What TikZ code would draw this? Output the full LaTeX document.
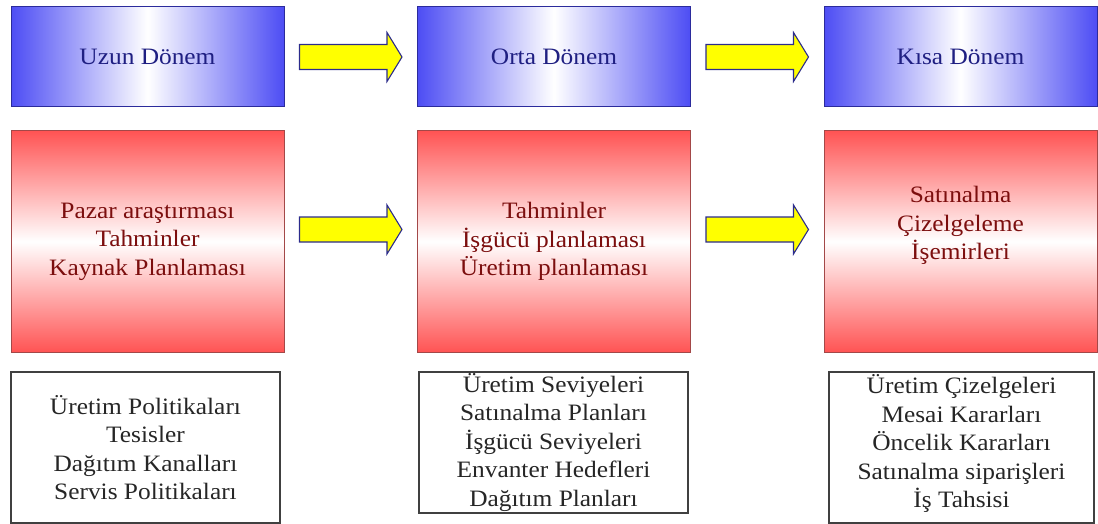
\documentclass[tikz,border=0pt]{standalone}
\usepackage{fontspec}
\setmainfont{Liberation Serif}[FakeStretch=1.08]
\usetikzlibrary{calc}

\definecolor{periodblue}{HTML}{4D4DF4}
\definecolor{periodedge}{HTML}{2B2B9C}
\definecolor{periodtext}{HTML}{1F1F82}
\definecolor{taskred}{HTML}{FF5353}
\definecolor{taskedge}{HTML}{A34848}
\definecolor{tasktext}{HTML}{7C0E0E}
\definecolor{arrowfill}{HTML}{FFFF00}
\definecolor{arrowedge}{HTML}{2C2C8C}

\tikzset{
  boxfont/.style={font=\fontsize{23.5}{28.5}\selectfont, align=center},
  period/.style={boxfont, draw=periodedge, line width=1pt,
    left color=periodblue, right color=periodblue, middle color=white,
    minimum width=273pt, minimum height=100pt, inner sep=0pt, text=periodtext},
  task/.style={boxfont, draw=taskedge, line width=1pt,
    top color=taskred, bottom color=taskred, middle color=white,
    minimum width=273pt, minimum height=222pt, inner sep=0pt, text=tasktext},
  tasklabel/.style={boxfont, inner sep=0pt, text=tasktext},
  result/.style={boxfont, draw=black!75, line width=1.3pt, fill=white,
    inner sep=0pt, text=black!85},
  bigarrow/.style={draw=arrowedge, line width=1.1pt, fill=arrowfill, line join=miter}
}

% block arrow between two boxes; #3 shifts its axis (positive = downwards)
\newcommand\fatarrow[3]{%
  \draw[bigarrow] let \p1=($(#1.east)+(15,#3)$), \p2=($(#2.west)+(-15,#3)$) in
    (\x1,\y1+12.5pt) -- (\x2-15pt,\y1+12.5pt) -- (\x2-15pt,\y1+24.5pt)
    -- (\x2,\y1) -- (\x2-15pt,\y1-24.5pt) -- (\x2-15pt,\y1-12.5pt)
    -- (\x1,\y1-12.5pt) -- cycle;}

\begin{document}
\begin{tikzpicture}[x=1pt, y=-1pt]
  \useasboundingbox (0,0) rectangle (1098,524);

  % planning horizons
  \node[period] (p1) at (147.5,57) {Uzun Dönem};
  \node[period] (p2) at (554,57)   {Orta Dönem};
  \node[period] (p3) at (960.5,57) {Kısa Dönem};

  % planning activities
  \node[task] (t1) at (147.5,241.5) {Pazar araştırması\\Tahminler\\Kaynak Planlaması};
  \node[task] (t2) at (554,241.5)   {Tahminler\\İşgücü planlaması\\Üretim planlaması};
  \node[task] (t3) at (960.5,241.5) {};
  \node[tasklabel] (t3text) at ($(t3)+(0,-16)$) {Satınalma\\Çizelgeleme\\İşemirleri};

  % resulting decisions
  \node[result, minimum width=269pt, minimum height=151pt] (r1) at (145.5,447.5)
    {Üretim Politikaları\\Tesisler\\Dağıtım Kanalları\\Servis Politikaları};
  \node[result, minimum width=269pt, minimum height=141pt] (r2) at (553.5,442.5)
    {Üretim Seviyeleri\\Satınalma Planları\\İşgücü Seviyeleri\\Envanter Hedefleri\\Dağıtım Planları};
  \node[result, minimum width=265pt, minimum height=151pt] (r3) at (961.5,447.5) {};
  \node[boxfont, inner sep=0pt, text=black!85] (r3text) at ($(r3)+(0,-4)$)
    {Üretim Çizelgeleri\\Mesai Kararları\\Öncelik Kararları\\Satınalma siparişleri\\İş Tahsisi};

  % flow from long to short term
  \fatarrow{p1}{p2}{0}
  \fatarrow{p2}{p3}{0}
  \fatarrow{t1}{t2}{-12}
  \fatarrow{t2}{t3}{-12}
\end{tikzpicture}
\end{document}
